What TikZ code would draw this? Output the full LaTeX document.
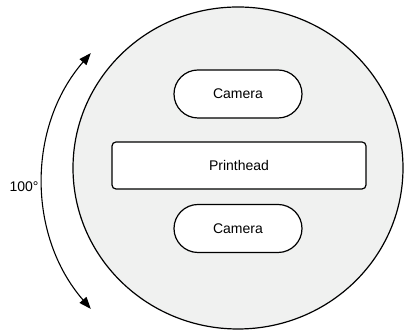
\documentclass[tikz,border=0pt]{standalone}
\usepackage{fontspec}
\setmainfont{Liberation Sans}
\usetikzlibrary{arrows.meta}
\definecolor{platefill}{RGB}{240,241,240}

\begin{document}
\begin{tikzpicture}[x=1pt,y=1pt,line width=1.2pt,
  camerabox/.style={draw,fill=white,rounded corners=24pt,minimum width=128pt,minimum height=48pt,inner sep=0pt},
  headbox/.style={draw,fill=white,rounded corners=4pt,minimum width=254pt,minimum height=47pt,inner sep=0pt},
  swing/.style={{Triangle[length=12pt,width=9pt]}-{Triangle[length=12pt,width=9pt]},line width=1.1pt},
  every node/.style={font=\fontsize{14pt}{16pt}\selectfont}]
\useasboundingbox (0, 0) rectangle (405, 331);

% rotating plate
\filldraw [fill=platefill] (238, 163) ellipse (165 and 161);

\node [camerabox] (camtop) at (238, 237) {Camera};
\node [headbox] (printhead) at (239, 165.5) {Printhead};
\node [camerabox] (cambot) at (238, 102.5) {Camera};

% swing of the plate
\coordinate (pivot) at (238, 150);
\draw [swing] ([shift={(139:195)}]pivot) arc (139:221:195);
\node (angle) at (24, 144) {100°};
\end{tikzpicture}
\end{document}
